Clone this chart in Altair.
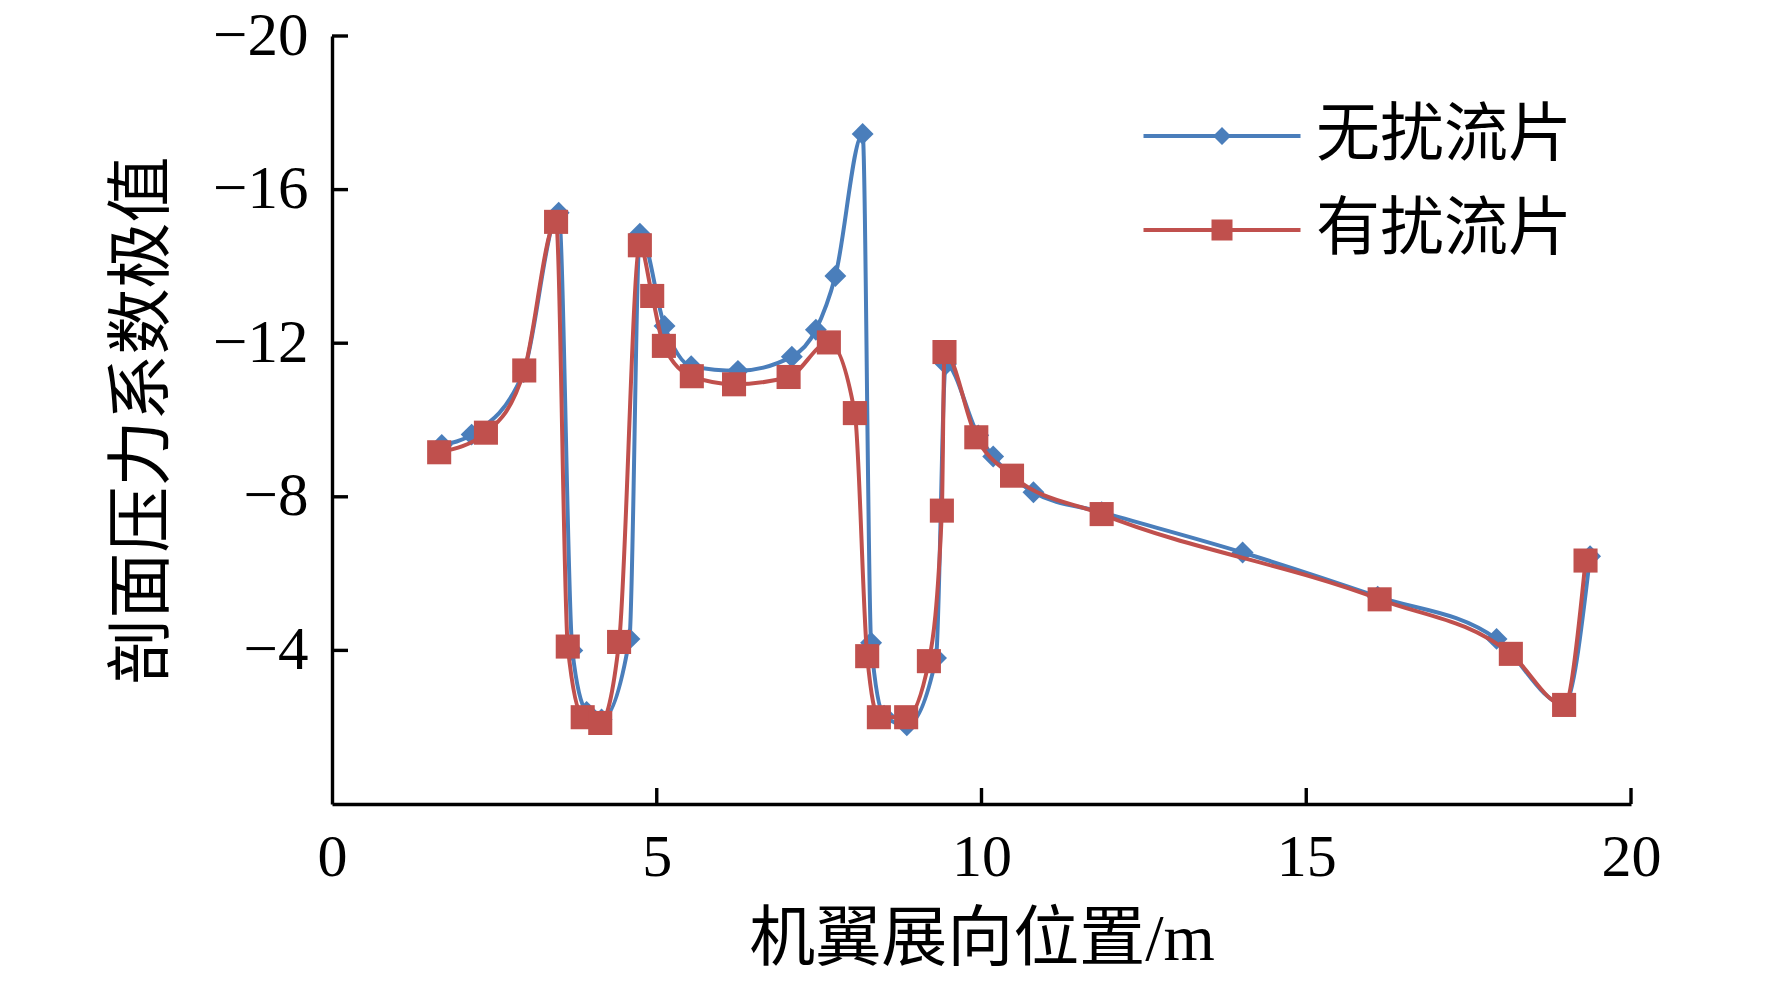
import altair as alt
import pandas as pd

# 无扰流片 (blue)
blue_x = [1.69, 2.15, 2.95, 3.49, 3.70, 3.92, 4.15, 4.58, 4.74, 5.12, 5.53, 6.25, 7.08, 7.45, 7.75, 8.17, 8.30, 8.50, 8.85, 9.30, 9.45, 9.95, 10.18, 10.80, 11.85, 14.02, 16.10, 17.93, 18.97, 19.37]
blue_v = [-9.35, -9.62, -11.25, -15.40, -4.00, -2.40, -2.20, -4.30, -14.85, -12.45, -11.40, -11.28, -11.65, -12.35, -13.75, -17.45, -4.20, -2.30, -2.05, -3.80, -11.45, -9.60, -9.05, -8.12, -7.60, -6.55, -5.40, -4.30, -2.60, -6.45]

# 有扰流片 (red)
red_x = [1.65, 2.37, 2.96, 3.45, 3.63, 3.86, 4.13, 4.42, 4.74, 4.93, 5.11, 5.54, 6.19, 7.03, 7.65, 8.05, 8.24, 8.42, 8.84, 9.19, 9.39, 9.43, 9.92, 10.47, 11.85, 16.13, 18.15, 18.97, 19.30]
red_v = [-9.16, -9.67, -11.29, -15.16, -4.10, -2.26, -2.11, -4.22, -14.55, -13.23, -11.93, -11.14, -10.93, -11.12, -12.02, -10.18, -3.85, -2.26, -2.26, -3.72, -7.64, -11.77, -9.55, -8.55, -7.55, -5.33, -3.91, -2.58, -6.34]

series_names = ["无扰流片", "有扰流片"]
colors = ["#4A7EBB", "#C0504D"]
x_ticks = [0, 5, 10, 15, 20]
y_ticks = [-20, -16, -12, -8, -4]

W, H = 1299, 768
LATIN = "Liberation Serif"
CJK = "Liberation Serif, Noto Sans CJK SC"

df_blue = pd.DataFrame({"x": blue_x, "v": blue_v, "series": series_names[0]})
df_red = pd.DataFrame({"x": red_x, "v": red_v, "series": series_names[1]})
df = pd.concat([df_blue, df_red], ignore_index=True)

xscale = alt.Scale(domain=[0, 20], nice=False, zero=False)
yscale = alt.Scale(domain=[-20, 0], reverse=True, nice=False, zero=False)

xaxis = alt.Axis(
    values=x_ticks, ticks=False, grid=False, domainColor="black", domainWidth=3.4,
    labelFont=LATIN, labelFontSize=60, labelColor="black", labelPadding=24,
    title="机翼展向位置/m", titleFont=CJK, titleFontSize=66, titleFontWeight="normal",
    titleColor="black", titleX=W / 2, titleY=135, titleBaseline="middle", titleAlign="center",
    labelFlush=False,
)
yaxis = alt.Axis(
    values=y_ticks, ticks=False, grid=False, domainColor="black", domainWidth=3.4,
    labelFont=LATIN, labelFontSize=61, labelColor="black", labelPadding=24,
    labelExpr="datum.value < 0 ? '\u2212' + format(-datum.value, 'd') : format(datum.value, 'd')",
    title="剖面压力系数极值", titleFont=CJK, titleFontSize=66, titleFontWeight="normal",
    titleColor="black", titleX=-190, titleY=H / 2, titleAngle=-90, titleBaseline="middle",
    titleAlign="center", labelFlush=False,
)

X = alt.X("x:Q", scale=xscale, axis=xaxis)
Y = alt.Y("v:Q", scale=yscale, axis=yaxis)

layers = []
point_shapes = ["diamond", "square"]
point_sizes = [480, 580]
for name, col, shp, sz in zip(series_names, colors, point_shapes, point_sizes):
    sub = df[df["series"] == name]
    line = alt.Chart(sub).mark_line(interpolate="monotone", strokeWidth=4, color=col).encode(x=X, y=Y)
    pts = alt.Chart(sub).mark_point(shape=shp, filled=True, size=sz, color=col, opacity=1).encode(x=X, y=Y)
    layers += [line, pts]

# inward ticks
ytick_df = pd.DataFrame({"v": y_ticks})
xtick_df = pd.DataFrame({"x": x_ticks[1:]})
yt = alt.Chart(ytick_df).mark_rule(color="black", strokeWidth=3.4).encode(
    y=Y, x=alt.value(0), x2=alt.value(16))
xt = alt.Chart(xtick_df).mark_rule(color="black", strokeWidth=3.4).encode(
    x=X, y=alt.value(H), y2=alt.value(H - 16))
layers += [yt, xt]

# legend layer (no marks drawn, legend from explicit domain)
blue_path = "M-7.85,-0.2H7.85V0.2H-7.85Z M-0.9,0L0,-0.9L0.9,0L0,0.9Z"
red_path = "M-7.85,-0.2H7.85V0.2H-7.85Z M-1.05,-1.05H1.05V1.05H-1.05Z"
legend_kw = dict(title=None, orient="none", legendX=858, legendY=68,
                 labelFont="Noto Sans CJK SC", labelFontSize=64, labelLimit=0,
                 labelColor="black", symbolSize=400, symbolOpacity=1,
                 symbolStrokeWidth=0, labelOffset=62, rowPadding=30, padding=0)
leg = alt.Chart(df).mark_point(filled=True).encode(
    x=X, y=Y,
    color=alt.Color("series:N", scale=alt.Scale(domain=series_names, range=colors),
                    legend=alt.Legend(**legend_kw)),
    shape=alt.Shape("series:N", scale=alt.Scale(domain=series_names, range=[blue_path, red_path]),
                    legend=alt.Legend(**legend_kw)),
).transform_filter("false")
layers.append(leg)

chart = alt.layer(*layers).properties(
    width=W, height=H,
    autosize=alt.AutoSizeParams(type="none"),
    padding={"left": 324, "top": 28, "right": 133, "bottom": 170},
).configure(background="white").configure_view(strokeWidth=0, stroke=None)

chart.save("out.html", embed_options={"renderer": "svg", "actions": False})
